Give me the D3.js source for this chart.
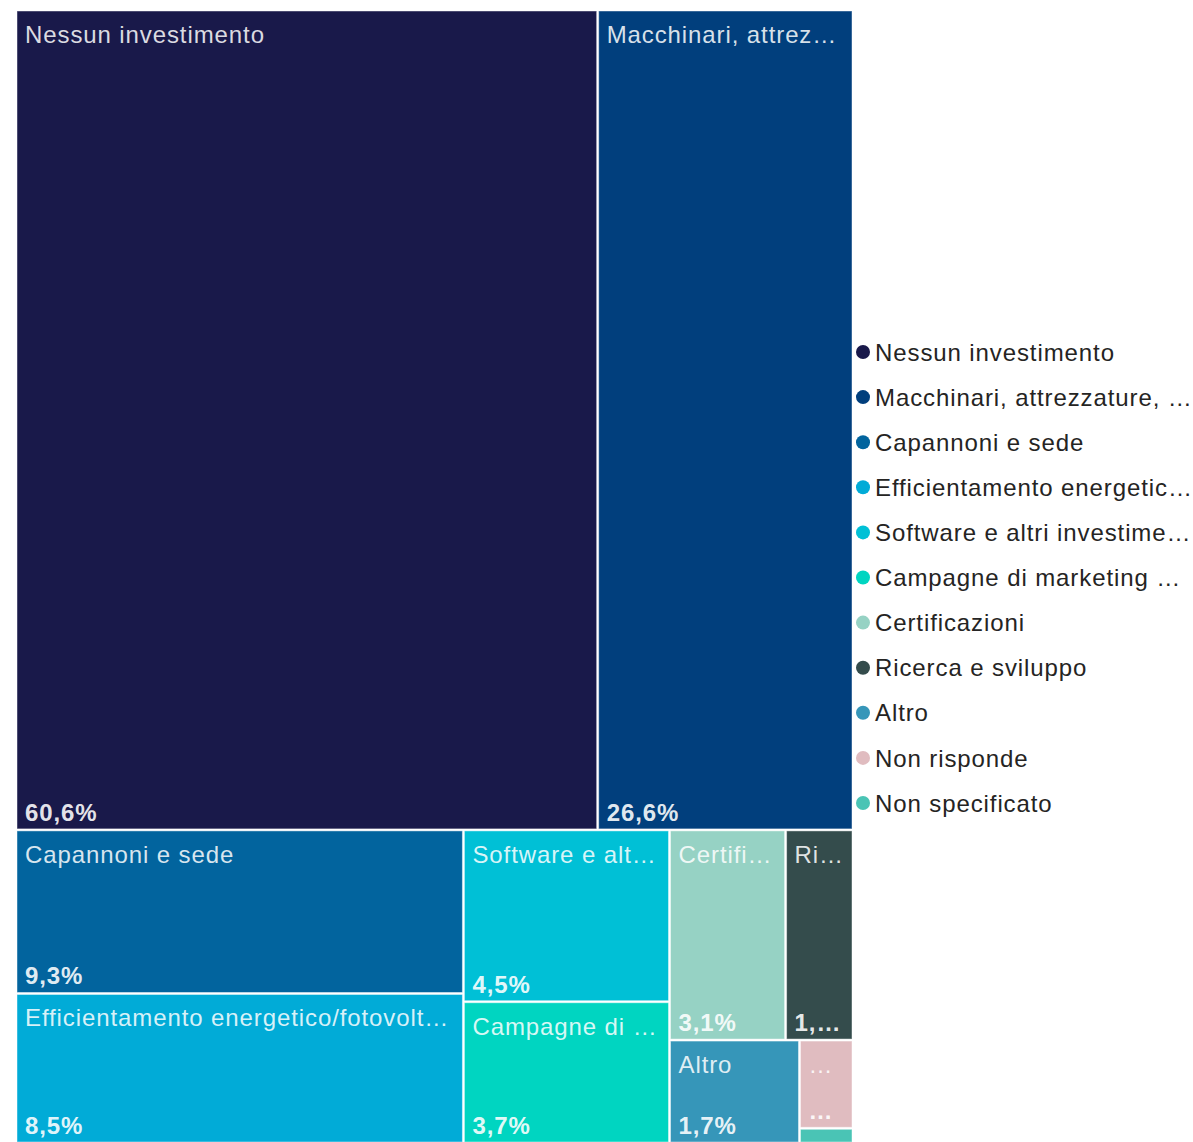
<!DOCTYPE html>
<html lang="it">
<head>
<meta charset="UTF-8" />
<script src="https://d3js.org/d3.v7.min.js"></script>
<title>Treemap investimenti</title>
<style>
  body { margin: 0; background: #fff; }
  svg { display: block; font-family: "Liberation Sans", Arial, sans-serif; letter-spacing: 0.9px; }
</style>
</head>
<body>
<svg width="1193" height="1142"></svg>
<script>
const categories = [
  "Nessun investimento",
  "Macchinari, attrezzature, impianti",
  "Capannoni e sede",
  "Efficientamento energetico/fotovoltaico",
  "Software e altri investimenti digitali",
  "Campagne di marketing e comunicazione",
  "Certificazioni",
  "Ricerca e sviluppo",
  "Altro",
  "Non risponde",
  "Non specificato"
]
const values = [60.6, 26.6, 9.3, 8.5, 4.5, 3.7, 3.1, 1.8, 1.7, 0.6, 0.1]
const palette = ["#19194a", "#013f7d", "#02649e", "#01abd7", "#00c0d6", "#00d5c1",
                 "#96d2c4", "#344c4c", "#3696b9", "#e0bcc0", "#4ac4b5"]

const margin = { left: 17, top: 11 }
const tmWidth = 835
const tmHeight = 1131
const fontSize = 24

const it = d3.formatLocale({ decimal: ",", thousands: ".", grouping: [3], currency: ["€", ""] })
const fmt = v => it.format(".1f")(v) + "%"
const color = d3.scaleOrdinal(categories, palette)

const root = d3.hierarchy({ children: categories.map((c, i) => ({ name: c, value: values[i] })) })
  .sum(d => d.value || 0)

d3.treemap().tile(d3.treemapSquarify).size([tmWidth, tmHeight]).paddingInner(2)(root)

const svg = d3.select("svg")

// cuts the text with an ellipsis until it fits
function fit(sel, str, maxW) {
  sel.text(str)
  if (sel.node().getComputedTextLength() <= maxW) return
  let s = str
  while (s.length > 0) {
    s = s.slice(0, -1)
    sel.text(s + "…")
    if (sel.node().getComputedTextLength() <= maxW) return
  }
  sel.text("…")
}

const cell = svg.append("g").attr("transform", `translate(${margin.left},${margin.top})`)
  .selectAll("g").data(root.leaves()).join("g")
  .attr("transform", d => `translate(${d.x0},${d.y0})`)

cell.append("rect")
  .attr("width", d => d.x1 - d.x0)
  .attr("height", d => d.y1 - d.y0)
  .attr("fill", d => color(d.data.name))
  .attr("stroke", "rgba(255,255,255,0.45)")
  .attr("stroke-width", 1)

cell.filter(d => d.y1 - d.y0 > 40).each(function (d) {
  const g = d3.select(this)
  const w = d.x1 - d.x0 - 16
  const h = d.y1 - d.y0
  fit(g.append("text").attr("x", 8).attr("y", 32)
    .attr("font-size", fontSize).attr("fill", "rgba(255,255,255,0.85)"), d.data.name, w)
  fit(g.append("text").attr("x", 8).attr("y", h - 8)
    .attr("font-size", fontSize).attr("font-weight", "bold").attr("fill", "rgba(255,255,255,0.9)"), fmt(d.data.value), w)
})

// legend
const legend = svg.append("g").attr("transform", "translate(863,352)")
  .selectAll("g").data(categories).join("g")
  .attr("transform", (d, i) => `translate(0,${i * 45.1})`)

legend.append("circle").attr("r", 7).attr("fill", d => color(d))
legend.append("text").attr("x", 12).attr("dy", "0.36em")
  .attr("font-size", fontSize).attr("fill", "#252423")
  .each(function (d) { fit(d3.select(this), d, 320) })
</script>
</body>
</html>
